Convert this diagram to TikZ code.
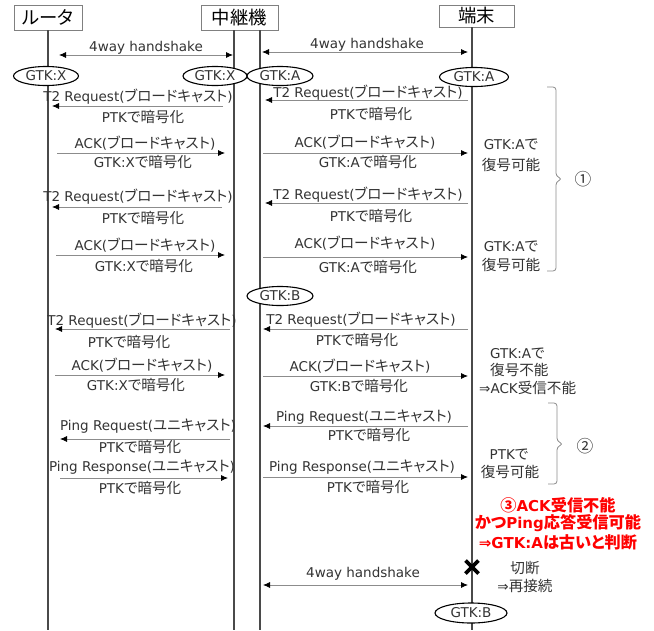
\documentclass[tikz,border=0pt]{standalone}
\usepackage{fontspec}
\setmainfont{DejaVu Sans}
\newfontfamily\jp[RawFeature=+palt,Scale=1.08]{Noto Sans CJK JP}
\usetikzlibrary{arrows.meta,shapes.geometric}
\newcommand\J[1]{{\jp #1}}
\newcommand\txfont{\fontsize{13.5}{16}\selectfont}
\definecolor{txtgray}{HTML}{333333}
\definecolor{arrgray}{HTML}{8C8C8C}
\definecolor{lifegray}{HTML}{4A4A4A}
\definecolor{hdrgray}{HTML}{808080}
\definecolor{redtxt}{HTML}{FF0000}
\newcommand\sqmsg[5][msg]{\coordinate (#2s) at (#3,#5); \coordinate (#2e) at (#4,#5); \draw[#1] (#2s) -- (#2e);}
\begin{document}
\begin{tikzpicture}[x=1pt,y=-1pt,
  life/.style={draw=lifegray, line width=1.4pt},
  hdr/.style={draw=hdrgray, line width=0.8pt, fill=white, inner sep=0pt, text=black, font=\fontsize{17}{20}\selectfont},
  gtk/.style={ellipse, draw=black, line width=1.1pt, fill=white, minimum height=19pt, inner sep=0pt, text=txtgray, font=\txfont},
  lbl/.style={text=txtgray, font=\txfont, inner sep=0pt},
  msg/.style={draw=arrgray, line width=0.8pt, -{Latex[length=7pt,width=6pt,color=black]}},
  both/.style={draw=arrgray, line width=0.8pt, {Latex[length=7pt,width=6pt,color=black]}-{Latex[length=7pt,width=6pt,color=black]}},
  brace/.style={draw=arrgray, line width=0.8pt, rounded corners=3pt},
  circ/.style={text=txtgray, font=\fontsize{15.5}{18}\selectfont, inner sep=0pt},
  redlbl/.style={text=redtxt, font=\bfseries\fontsize{15}{18}\selectfont, inner sep=0pt}
]
\useasboundingbox (0,0) rectangle (654,630);
\fill[white] (0,0) rectangle (654,630);

% headers
\node[hdr, minimum width=68pt, minimum height=25pt] (rt) at (48,17.5) {\J{ルータ}};
\node[hdr, minimum width=77pt, minimum height=25pt] (rel) at (239.5,17.5) {\J{中継機}};
\node[hdr, minimum width=75pt, minimum height=22pt] (sta) at (476.5,16) {\J{端末}};

% lifelines
\coordinate (l1t) at (48,30);  \coordinate (l1b) at (48,630);
\coordinate (l2t) at (234,30); \coordinate (l2b) at (234,630);
\coordinate (l3t) at (260,30); \coordinate (l3b) at (260,630);
\coordinate (l4t) at (472,27); \coordinate (l4b) at (472,630);
\draw[life] (l1t) -- (l1b);
\draw[life] (l2t) -- (l2b);
\draw[life] (l3t) -- (l3b);
\draw[life] (l4t) -- (l4b);

% messages
\sqmsg[both]{hsL}{59}{233}{55}
\sqmsg[both]{hsR}{262}{468}{52}
\sqmsg{t1L}{223}{52}{106}
\sqmsg{t1R}{468}{265}{100}
\sqmsg{a1L}{57}{225}{153}
\sqmsg{a1R}{263}{468}{153}
\sqmsg{t2L}{222}{52}{207}
\sqmsg{t2R}{468}{265}{203}
\sqmsg{a2L}{56}{225}{255}
\sqmsg{a2R}{263}{468}{257}
\sqmsg{t3L}{230}{55}{329}
\sqmsg{t3R}{468}{263}{329}
\sqmsg{a3L}{55}{225}{375}
\sqmsg{a3R}{263}{468}{376}
\sqmsg{pqL}{230}{60}{439}
\sqmsg{pqR}{468}{263}{426}
\sqmsg{prL}{60}{228}{478}
\sqmsg{prR}{263}{468}{477}
\sqmsg[both]{hsB}{263}{468}{585}

% GTK ellipses
\node[gtk, minimum width=65pt] (gx1) at (46,76) {GTK:X};
\node[gtk, minimum width=64pt] (gx2) at (215,76) {GTK:X};
\node[gtk, minimum width=66pt] (ga2) at (280,76) {GTK:A};
\node[gtk, minimum width=69pt] (ga4) at (474,77) {GTK:A};
\node[gtk, minimum width=66pt] (gb3) at (280,296) {GTK:B};
\node[gtk, minimum width=72pt, minimum height=20pt] (gb4) at (471,613) {GTK:B};

% labels
\node[lbl] (hsLt) at (146,48) {4way handshake};
\node[lbl] (hsRt) at (367,45) {4way handshake};
\node[lbl] (t1Lt) at (138,97) {T2 Request(\J{ブロードキャスト})};
\node[lbl] (t1Lp) at (143,117) {PTK\J{で暗号化}};
\node[lbl] (t1Rt) at (368,93) {T2 Request(\J{ブロードキャスト})};
\node[lbl] (t1Rp) at (371,114) {PTK\J{で暗号化}};
\node[lbl] (a1Lt) at (145,143) {ACK(\J{ブロードキャスト})};
\node[lbl] (a1Lp) at (143,162) {GTK:X\J{で暗号化}};
\node[lbl] (a1Rt) at (365,142) {ACK(\J{ブロードキャスト})};
\node[lbl] (a1Rp) at (368,162) {GTK:A\J{で暗号化}};
\node[lbl] (n1a) at (511,145) {GTK:A\J{で}};
\node[lbl] (n1b) at (511,165) {\J{復号可能}};

\node[lbl] (t2Lt) at (138,197) {T2 Request(\J{ブロードキャスト})};
\node[lbl] (t2Lp) at (143,218) {PTK\J{で暗号化}};
\node[lbl] (t2Rt) at (368,195) {T2 Request(\J{ブロードキャスト})};
\node[lbl] (t2Rp) at (371,216) {PTK\J{で暗号化}};
\node[lbl] (a2Lt) at (145,245) {ACK(\J{ブロードキャスト})};
\node[lbl] (a2Lp) at (144,266) {GTK:X\J{で暗号化}};
\node[lbl] (a2Rt) at (365,243) {ACK(\J{ブロードキャスト})};
\node[lbl] (a2Rp) at (368,267) {GTK:A\J{で暗号化}};
\node[lbl] (n2a) at (511,247) {GTK:A\J{で}};
\node[lbl] (n2b) at (511,265) {\J{復号可能}};

\node[lbl] (t3Lt) at (142,321) {T2 Request(\J{ブロードキャスト})};
\node[lbl] (t3Lp) at (129,342) {PTK\J{で暗号化}};
\node[lbl] (t3Rt) at (361,320) {T2 Request(\J{ブロードキャスト})};
\node[lbl] (t3Rp) at (357,340) {PTK\J{で暗号化}};
\node[lbl] (a3Lt) at (142,365) {ACK(\J{ブロードキャスト})};
\node[lbl] (a3Lp) at (136,385) {GTK:X\J{で暗号化}};
\node[lbl] (a3Rt) at (360,366) {ACK(\J{ブロードキャスト})};
\node[lbl] (a3Rp) at (359,386) {GTK:B\J{で暗号化}};
\node[lbl, anchor=west] (n3a) at (490,353) {GTK:A\J{で}};
\node[lbl, anchor=west] (n3b) at (490,370) {\J{復号不能}};
\node[lbl, anchor=west] (n3c) at (479,388) {⇒ACK\J{受信不能}};

\node[lbl] (pqLt) at (148,426) {Ping Request(\J{ユニキャスト})};
\node[lbl] (pqLp) at (140,447) {PTK\J{で暗号化}};
\node[lbl] (pqRt) at (364,417) {Ping Request(\J{ユニキャスト})};
\node[lbl] (pqRp) at (369,435) {PTK\J{で暗号化}};
\node[lbl] (prLt) at (142,467) {Ping Response(\J{ユニキャスト})};
\node[lbl] (prLp) at (140,488) {PTK\J{で暗号化}};
\node[lbl] (prRt) at (362,467) {Ping Response(\J{ユニキャスト})};
\node[lbl] (prRp) at (368,487) {PTK\J{で暗号化}};
\node[lbl] (n4a) at (509,454) {PTK\J{で}};
\node[lbl] (n4b) at (510,472) {\J{復号可能}};

\node[lbl] (hsBt) at (363,574) {4way handshake};

% braces
\draw[brace] (547,87) -| (556,176) -- (562,179) -- (556,182) |- (547,271);
\node[circ] (c1) at (583,179) {\J{①}};
\draw[brace] (548,403) -| (557,441) -- (563,444) -- (557,447) |- (548,484);
\node[circ] (c2) at (585,446) {\J{②}};

% red conclusion
\node[redlbl] (r1) at (558,505) {\J{③}ACK\J{受信不能}};
\node[redlbl] (r2) at (558,523) {\J{かつ}Ping\J{応答受信可能}};
\node[redlbl] (r3) at (558,542) {⇒GTK:A\J{は古いと判断}};

% disconnect mark
\coordinate (cut) at (472,567);
\draw[line width=3.6pt, black] ([shift={(-6.5,-6.5)}]cut) -- ([shift={(6.5,6.5)}]cut);
\draw[line width=3.6pt, black] ([shift={(-6.5,6.5)}]cut) -- ([shift={(6.5,-6.5)}]cut);
\node[lbl] (dc1) at (525,568) {\J{切断}};
\node[lbl] (dc2) at (525,586) {⇒\J{再接続}};
\end{tikzpicture}
\end{document}
